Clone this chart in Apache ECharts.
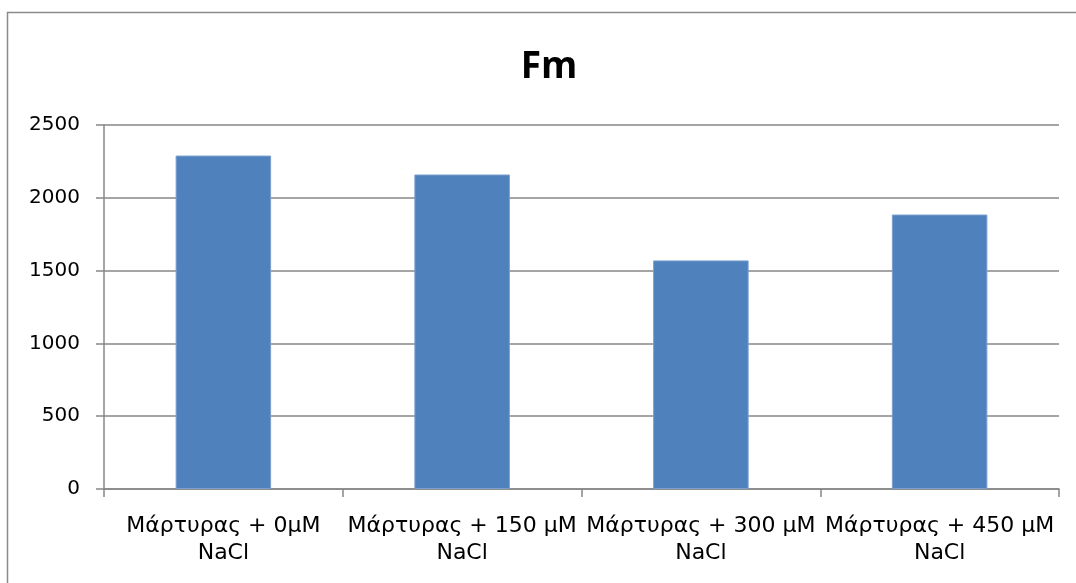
<!DOCTYPE html>
<html>
<head>
<meta charset="utf-8">
<title>Fm</title>
<script src="https://cdn.jsdelivr.net/npm/echarts@6/dist/echarts.min.js"></script>
<style>
  html, body { margin: 0; padding: 0; background: #ffffff; }
  #chart { width: 1076px; height: 583px; }
</style>
</head>
<body>
<div id="chart"></div>
<script>
// Treatment groups (x axis) and measured Fm values
const categories = [
  'Μάρτυρας + 0μM\nNaCl',
  'Μάρτυρας + 150 μM\nNaCl',
  'Μάρτυρας + 300 μM\nNaCl',
  'Μάρτυρας + 450 μM\nNaCl'
];
const fmValues = [2290, 2160, 1570, 1885];
const yTicks = [0, 500, 1000, 1500, 2000, 2500];

const axisGray = '#878787';
const labelFont = 'DejaVu Sans';

const chart = echarts.init(document.getElementById('chart'), null, { renderer: 'canvas' });

chart.setOption({
  animation: false,
  backgroundColor: '#ffffff',
  title: {
    text: 'Fm',
    left: 544,
    top: 44,
    textAlign: 'center',
    textStyle: {
      fontFamily: 'Open Sans',
      fontWeight: 'bold',
      fontSize: 37,
      color: '#000000'
    }
  },
  graphic: [{
    // chart-area frame: only the left and top edges fall inside the canvas
    type: 'polyline',
    shape: { points: [[7.5, 583], [7.5, 12.5], [1076, 12.5]] },
    style: { fill: 'none', stroke: '#8a8a8a', lineWidth: 1.5 },
    silent: true,
    z: -1
  }],
  grid: {
    left: 104,
    right: 17,
    top: 125,
    bottom: 94,
    containLabel: false
  },
  xAxis: {
    type: 'category',
    data: categories,
    boundaryGap: true,
    axisLine: { show: true, lineStyle: { color: axisGray, width: 1.5 } },
    axisTick: { show: true, interval: 0, length: 8, lineStyle: { color: axisGray, width: 1.5 } },
    axisLabel: {
      interval: 0,
      margin: 24,
      fontFamily: labelFont,
      fontSize: 22,
      lineHeight: 27,
      color: '#000000'
    },
    splitLine: { show: false }
  },
  yAxis: {
    type: 'value',
    min: yTicks[0],
    max: yTicks[yTicks.length - 1],
    interval: yTicks[1] - yTicks[0],
    axisLine: { show: true, lineStyle: { color: axisGray, width: 1.5 } },
    axisTick: { show: true, length: 8, lineStyle: { color: axisGray, width: 1.5 } },
    axisLabel: {
      margin: 24,
      fontFamily: labelFont,
      fontSize: 20,
      color: '#000000',
      formatter: function (v) { return String(v); }
    },
    splitLine: { show: true, lineStyle: { color: axisGray, width: 1.5 } }
  },
  series: [{
    name: 'Fm',
    type: 'bar',
    data: fmValues,
    barWidth: '40%',
    itemStyle: {
      color: '#4f81bd',
      borderColor: '#7a9fcf',
      borderWidth: 1
    }
  }]
});
</script>
</body>
</html>
